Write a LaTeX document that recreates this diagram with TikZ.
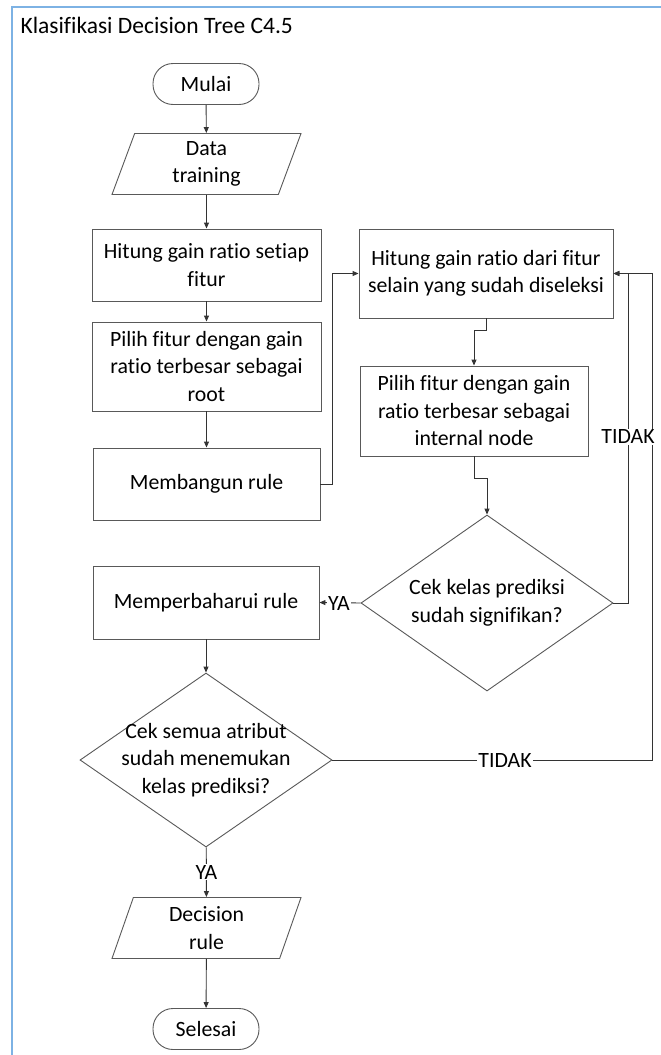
\documentclass[tikz,border=0pt]{standalone}
\usepackage{fontspec}
\setmainfont{Carlito}[Ligatures=NoCommon]
\usetikzlibrary{shapes.geometric,arrows.meta,positioning}

\definecolor{biru}{RGB}{125,178,228}
\tikzset{
  garis/.style={draw=black!80, line width=0.9pt},
  panah/.style={garis, -{Triangle[length=6pt,width=5pt]}},
  teks/.style={font=\fontsize{21.8}{27.5}\selectfont, align=center, text=black},
  kotak/.style={teks, draw=black!65, line width=0.9pt, fill=white, inner sep=0pt},
  terminal/.style={kotak, rounded corners=20pt, minimum width=106, minimum height=41},
  masukan/.style={kotak, trapezium, trapezium left angle=63.4, trapezium right angle=116.6,
    trapezium stretches body, minimum width=189, minimum height=61},
  keputusan/.style={kotak, diamond, minimum width=252, minimum height=175},
  ket/.style={teks, fill=white, inner sep=1pt}
}

\begin{document}
\begin{tikzpicture}[x=1pt, y=-1pt]
  \useasboundingbox (0,0) rectangle (661,1055);
  \fill[white] (0,0) rectangle (661,1055);
  % bingkai
  \draw[line width=2pt, color=biru] (700,6.5) -- (11.5,6.5) -- (11.5,1100);
  \node[teks, anchor=west, font=\fontsize{23.5}{28}\selectfont] (judul) at (17,25) {Klasifikasi Decision Tree C4.5};

  % kolom kiri
  \node[terminal] (mulai) at (206,84) {Mulai};
  \node[masukan] (data) at (206.5,164) {Data\\training};
  \node[kotak, minimum width=229, minimum height=72] (hitung) at (206.5,265) {Hitung gain ratio setiap\\fitur};
  \node[kotak, minimum width=229, minimum height=89] (pilih) at (206.5,366.5) {Pilih fitur dengan gain\\ratio terbesar sebagai\\root};
  \node[kotak, minimum width=227, minimum height=72] (bangun) at (206.5,484) {Membangun rule};
  \node[kotak, minimum width=226, minimum height=73] (perbarui) at (206,602.5) {Memperbaharui rule};
  \node[keputusan, minimum height=174,
        label={[teks]center:Cek semua atribut\\sudah menemukan\\kelas prediksi?}] (ceka) at (206,760) {};
  \node[masukan] (keputusan) at (206.5,928) {Decision\\rule};
  \node[terminal] (selesai) at (206,1029) {Selesai};

  % kolom kanan
  \node[kotak, minimum width=254, minimum height=89] (hitungb) at (486,273.5) {Hitung gain ratio dari fitur\\selain yang sudah diseleksi};
  \node[kotak, minimum width=228, minimum height=90] (pilihb) at (474,411) {Pilih fitur dengan gain\\ratio terbesar sebagai\\internal node};
  \node[keputusan, minimum height=176,
        label={[teks]center:Cek kelas prediksi\\sudah signifikan?}] (cekb) at (487,603) {};

  \coordinate (pojok) at (652,273.5);

  % alur
  \draw[panah] (mulai) -- (data);
  \draw[panah] (data) -- (hitung);
  \draw[panah] (hitung) -- (pilih);
  \draw[panah] (pilih) -- (bangun);
  \draw[panah] (bangun.east) -- ++(12,0) |- (hitungb.west);
  \draw[panah] (hitungb.south) -- ++(0,12) -| (pilihb.north);
  \draw[panah] (pilihb.south) -- ++(0,22) -| (cekb.north);
  \draw[panah] (cekb.east) -- ++(15,0) |- (hitungb.east);
  \draw[panah] (cekb.west) -- (perbarui.east);
  \draw[panah] (perbarui) -- (ceka);
  \draw[panah] (ceka.east) -| (pojok) -- (hitungb.east);
  \draw[panah] (ceka) -- (keputusan);
  \draw[panah] (keputusan) -- (selesai);

  % label cabang
  \node[ket] (tidakb) at (628,437) {TIDAK};
  \node[ket] (yab) at (339,603) {YA};
  \node[ket] (tidaka) at (505,760) {TIDAK};
  \node[ket] (yaa) at (206.5,872) {YA};
\end{tikzpicture}
\end{document}
